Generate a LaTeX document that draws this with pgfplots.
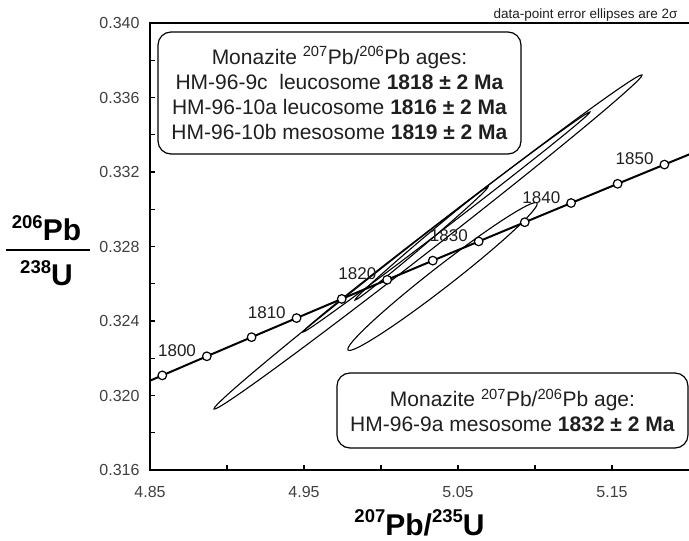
\documentclass[border=0pt]{standalone}
\usepackage{fontspec}
\setmainfont{Liberation Sans}
\usepackage{pgfplots}
\pgfplotsset{compat=1.18}

\definecolor{txt}{gray}{0.12}
\definecolor{ticktxt}{gray}{0.25}

% error ellipse: centre, end of major semi-axis, end of minor semi-axis (data units)
\newcommand{\errellipse}[6]{%
  \pgfplotsextra{%
    \pgfsetlinewidth{1.1bp}%
    \pgfsetstrokecolor{black}%
    \pgfpathellipse{\pgfplotspointaxisxy{#1}{#2}}%
      {\pgfpointdiff{\pgfplotspointaxisxy{#1}{#2}}{\pgfplotspointaxisxy{#3}{#4}}}%
      {\pgfpointdiff{\pgfplotspointaxisxy{#1}{#2}}{\pgfplotspointaxisxy{#5}{#6}}}%
    \pgfusepath{stroke}%
  }%
}

\newcommand{\iso}[2]{\raisebox{12.5bp}{\fontsize{18.5bp}{20bp}\selectfont #1}#2}

\begin{document}
\begin{tikzpicture}[
  lbl/.style={anchor=base east, xshift=-7bp, text=txt,
    font=\fontsize{17bp}{20bp}\selectfont},
]
\begin{axis}[
  name=ax,
  scale only axis,
  width=539bp, height=447bp,
  xmin=4.85, xmax=5.20,
  ymin=0.316, ymax=0.340,
  axis line style={draw=none},
  xtick={4.85,4.95,5.05,5.15},
  minor xtick={4.90,5.00,5.10},
  ytick={0.316,0.320,0.324,0.328,0.332,0.336,0.340},
  minor ytick={0.318,0.322,0.326,0.330,0.334,0.338},
  xtick pos=bottom, ytick pos=left,
  tick align=inside,
  major tick length=5bp, minor tick length=5bp,
  every tick/.style={black, line width=1.2bp},
  scaled ticks=false,
  /pgf/number format/assume math mode=true,
  ticklabel style={font=\fontsize{16bp}{19bp}\selectfont, text=ticktxt},
  xticklabel style={/pgf/number format/.cd, fixed, fixed zerofill, precision=2},
  yticklabel style={/pgf/number format/.cd, fixed, fixed zerofill, precision=3},
  xticklabel shift=13bp,
  yticklabel shift=7bp,
]

% 2 sigma error ellipses
\errellipse{5.03052}{0.328242}{5.16948}{0.337208}{5.033715}{0.327904} % HM-96-9c
\errellipse{5.04253}{0.329315}{5.135712}{0.335221}{5.04411}{0.329145} % HM-96-10a
\errellipse{5.02630}{0.328161}{5.069482}{0.331195}{5.02756}{0.328038} % HM-96-10b
\errellipse{5.03994}{0.326389}{5.101304}{0.330335}{5.044128}{0.325944} % HM-96-9a

% concordia
\addplot[black, line width=2bp] coordinates {
  (4.829208,0.320055) (4.857981,0.321079) (4.886899,0.322105)
  (4.915958,0.323131) (4.945164,0.324157) (4.974512,0.325185)
  (5.004000,0.326214) (5.033636,0.327242) (5.063425,0.328272)
  (5.093359,0.329302) (5.123436,0.330334) (5.153659,0.331367)
  (5.184040,0.332399) (5.214568,0.333433)
};
\addplot[only marks, mark=*, mark size=4.3bp,
  mark options={fill=white, draw=black, line width=1.2bp}] coordinates {
  (4.857981,0.321079) (4.886899,0.322105)
  (4.915958,0.323131) (4.945164,0.324157) (4.974512,0.325185)
  (5.004000,0.326214) (5.033636,0.327242) (5.063425,0.328272)
  (5.093359,0.329302) (5.123436,0.330334) (5.153659,0.331367)
  (5.184040,0.332399)
};

\node[lbl] at (axis cs:4.886899,0.322105) {1800};
\node[lbl] at (axis cs:4.945164,0.324157) {1810};
\node[lbl] at (axis cs:5.004000,0.326214) {1820};
\node[lbl] at (axis cs:5.063425,0.328272) {1830};
\node[lbl] at (axis cs:5.123436,0.330334) {1840};
\node[lbl] at (axis cs:5.184040,0.332399) {1850};

\node[draw, rounded corners=13bp, line width=1.2bp, text=txt,
  minimum width=363bp, minimum height=122bp, inner sep=0pt, align=center,
  font=\fontsize{21bp}{25bp}\selectfont]
  at (rel axis cs:0.3516,0.8434)
  {Monazite \textsuperscript{207}Pb/\textsuperscript{206}Pb ages:\\
   HM-96-9c\ \ leucosome \textbf{1818 ± 2 Ma}\\
   HM-96-10a leucosome \textbf{1816 ± 2 Ma}\\
   HM-96-10b mesosome \textbf{1819 ± 2 Ma}};

\node[draw, rounded corners=13bp, line width=1.2bp, text=txt,
  minimum width=351bp, minimum height=75bp, inner sep=0pt, align=center,
  font=\fontsize{21bp}{25bp}\selectfont]
  at (rel axis cs:0.6725,0.1331)
  {Monazite \textsuperscript{207}Pb/\textsuperscript{206}Pb age:\\
   HM-96-9a mesosome \textbf{1832 ± 2 Ma}};
\end{axis}

% axis frame (right side is cut off in the original)
\draw[line width=1.6bp] (ax.north east) -- (ax.north west) -- (ax.south west) -- (ax.south east);

\node[anchor=base east, text=txt, font=\fontsize{13.5bp}{15bp}\selectfont]
  at ([shift={(-8bp,4bp)}]ax.north east) {data-point error ellipses are 2σ};

% axis titles
\node[anchor=base, text=black, font=\fontsize{30bp}{32bp}\selectfont\bfseries]
  at ([yshift=-65bp]ax.south) {\iso{207}{Pb}/\iso{235}{U}};
\node[anchor=base, text=black, font=\fontsize{30bp}{32bp}\selectfont\bfseries]
  at ([shift={(-103.5bp,229bp)}]ax.south west) {\iso{206}{Pb}};
\draw[line width=2bp] ([shift={(-144bp,220bp)}]ax.south west) -- ([shift={(-60bp,220bp)}]ax.south west);
\node[anchor=base, text=black, font=\fontsize{30bp}{32bp}\selectfont\bfseries]
  at ([shift={(-103.5bp,184bp)}]ax.south west) {\iso{238}{U}};

\pgfresetboundingbox
\path ([shift={(-150bp,-71bp)}]ax.south west) rectangle ([shift={(0bp,23bp)}]ax.north east);
\end{tikzpicture}
\end{document}
